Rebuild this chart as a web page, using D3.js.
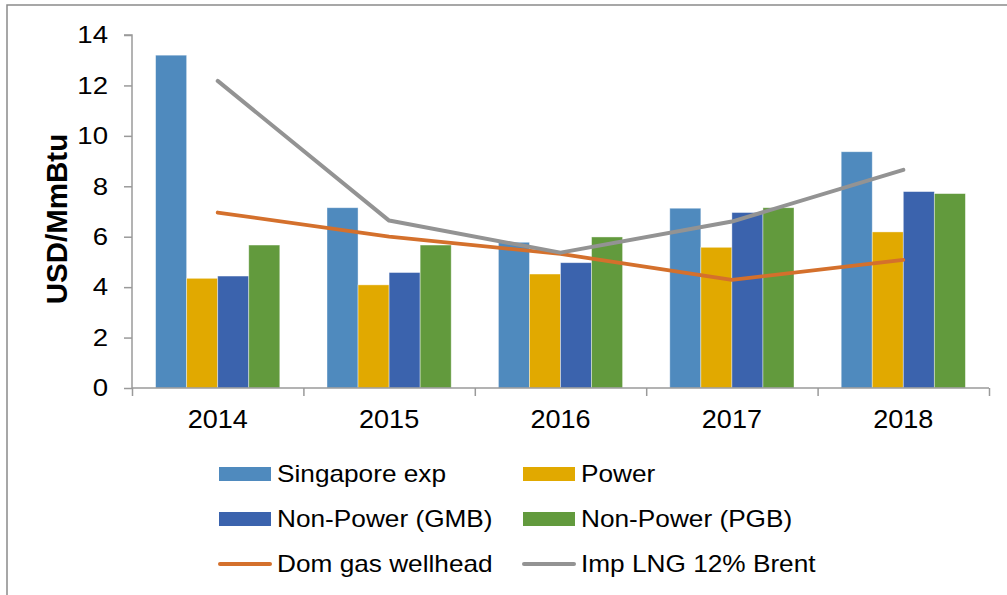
<!DOCTYPE html>
<html>
<head>
<meta charset="utf-8">
<script src="https://cdn.jsdelivr.net/npm/d3@7"></script>
<style>
  html, body { margin: 0; padding: 0; background: #fff; }
  svg { display: block; font-family: "Liberation Sans", Arial, sans-serif; }
</style>
</head>
<body>
<svg id="chart" width="1007" height="595"></svg>
<script>
const years = ["2014", "2015", "2016", "2017", "2018"];
const barSeries = ["Singapore exp", "Power", "Non-Power (GMB)", "Non-Power (PGB)"];
const singaporeExp = [13.2, 7.15, 5.78, 7.13, 9.37];
const power = [4.35, 4.09, 4.52, 5.58, 6.19];
const nonPowerGMB = [4.44, 4.58, 4.97, 6.96, 7.79];
const nonPowerPGB = [5.67, 5.67, 5.99, 7.15, 7.71];
const lineSeries = ["Dom gas wellhead", "Imp LNG 12% Brent"];
const domGasWellhead = [6.96, 6.0, 5.32, 4.29, 5.08];
const impLNG = [12.18, 6.64, 5.37, 6.6, 8.65];
const yTicks = [0, 2, 4, 6, 8, 10, 12, 14];

const barColors = ["#4F8ABE", "#E1A900", "#3B63AD", "#629A3D"];
const lineColors = ["#D4702C", "#939393"];
const barValues = [singaporeExp, power, nonPowerGMB, nonPowerPGB];
const lineValues = [domGasWellhead, impLNG];

const svg = d3.select("#chart");
const plot = { left: 132, right: 989, top: 35, bottom: 388 };

// outer border (chart frame)
svg.append("path")
  .attr("d", `M7,595 L7,5 L1007,5`)
  .attr("fill", "none").attr("stroke", "#8a8a8a").attr("stroke-width", 1.5);

const x = d3.scaleBand().domain(years).range([plot.left, plot.right]).paddingInner(0).paddingOuter(0);
const inner = d3.scaleBand().domain(barSeries)
  .range([0, x.bandwidth()]).paddingOuter(0.76).paddingInner(0);
const y = d3.scaleLinear().domain([0, 14]).range([plot.bottom, plot.top]);

// bars
barSeries.forEach((s, si) => {
  svg.append("g").selectAll("rect")
    .data(years.map((yr, i) => ({ yr, v: barValues[si][i] })))
    .join("rect")
    .attr("x", d => x(d.yr) + inner(s))
    .attr("y", d => y(d.v))
    .attr("width", inner.bandwidth())
    .attr("height", d => y(0) - y(d.v))
    .attr("fill", barColors[si])
    .attr("stroke", "#ffffff").attr("stroke-opacity", 0.5).attr("stroke-width", 0.8);
});

// y axis
const yAxis = d3.axisLeft(y).tickValues(yTicks).tickSize(8).tickFormat("");
const gy = svg.append("g").attr("transform", `translate(${plot.left},0)`).call(yAxis);
gy.select(".domain").attr("stroke", "#9a9a9a").attr("stroke-width", 1.5)
  .attr("d", `M-8,${plot.top}H0V${plot.bottom}`);
gy.selectAll(".tick line").attr("stroke", "#9a9a9a").attr("stroke-width", 1.5);
svg.append("g").selectAll("text").data(yTicks).join("text")
  .attr("transform", d => `translate(108,${y(d)}) scale(1.2,1)`)
  .attr("dy", "0.36em")
  .attr("text-anchor", "end")
  .attr("font-size", 23)
  .attr("fill", "#000")
  .text(d => d);

// x axis
const xEdges = d3.scaleLinear().domain([0, years.length]).range([plot.left, plot.right]);
const xAxis = d3.axisBottom(xEdges).tickValues(d3.range(0, years.length + 1)).tickSize(8).tickFormat("");
const gx = svg.append("g").attr("transform", `translate(0,${plot.bottom})`).call(xAxis);
gx.select(".domain").attr("stroke", "#9a9a9a").attr("stroke-width", 1.5)
  .attr("d", `M${plot.left},0H${plot.right}`);
gx.selectAll(".tick line").attr("stroke", "#9a9a9a").attr("stroke-width", 1.5);
svg.append("g").selectAll("text").data(years).join("text")
  .attr("transform", d => `translate(${x(d) + x.bandwidth() / 2},428) scale(1.04,1)`)
  .attr("text-anchor", "middle")
  .attr("font-size", 26)
  .attr("fill", "#000")
  .text(d => d);

// y axis title
svg.append("text")
  .attr("transform", `translate(67,219) rotate(-90)`)
  .attr("text-anchor", "middle")
  .attr("font-size", 29.5).attr("font-weight", "bold").attr("fill", "#000")
  .text("USD/MmBtu");

// lines
const line = d3.line().x((d, i) => x(years[i]) + x.bandwidth() / 2).y(d => y(d));
lineSeries.forEach((s, si) => {
  svg.append("path")
    .datum(lineValues[si])
    .attr("d", line)
    .attr("fill", "none")
    .attr("stroke", lineColors[si])
    .attr("stroke-width", si === 1 ? 4 : 3.8)
    .attr("stroke-linecap", "round")
    .attr("stroke-linejoin", "round");
});

// legend
const legendItems = [
  { name: barSeries[0], color: barColors[0], type: "bar" },
  { name: barSeries[1], color: barColors[1], type: "bar" },
  { name: barSeries[2], color: barColors[2], type: "bar" },
  { name: barSeries[3], color: barColors[3], type: "bar" },
  { name: lineSeries[0], color: lineColors[0], type: "line" },
  { name: lineSeries[1], color: lineColors[1], type: "line" }
];
const colX = [219, 523];
const rowY = [474, 519, 564];
const lg = svg.append("g");
legendItems.forEach((it, i) => {
  const cx = colX[i % 2], cy = rowY[Math.floor(i / 2)];
  if (it.type === "bar") {
    lg.append("rect").attr("x", cx).attr("y", cy - 7).attr("width", 52).attr("height", 14).attr("fill", it.color);
  } else {
    lg.append("line").attr("x1", cx + 1).attr("x2", cx + 51).attr("y1", cy).attr("y2", cy)
      .attr("stroke", it.color).attr("stroke-width", 4).attr("stroke-linecap", "round");
  }
  lg.append("text")
    .attr("transform", `translate(${cx + 58},${cy}) scale(1.14,1)`)
    .attr("dy", "0.36em")
    .attr("font-size", 23).attr("fill", "#000").text(it.name);
});
</script>
</body>
</html>
